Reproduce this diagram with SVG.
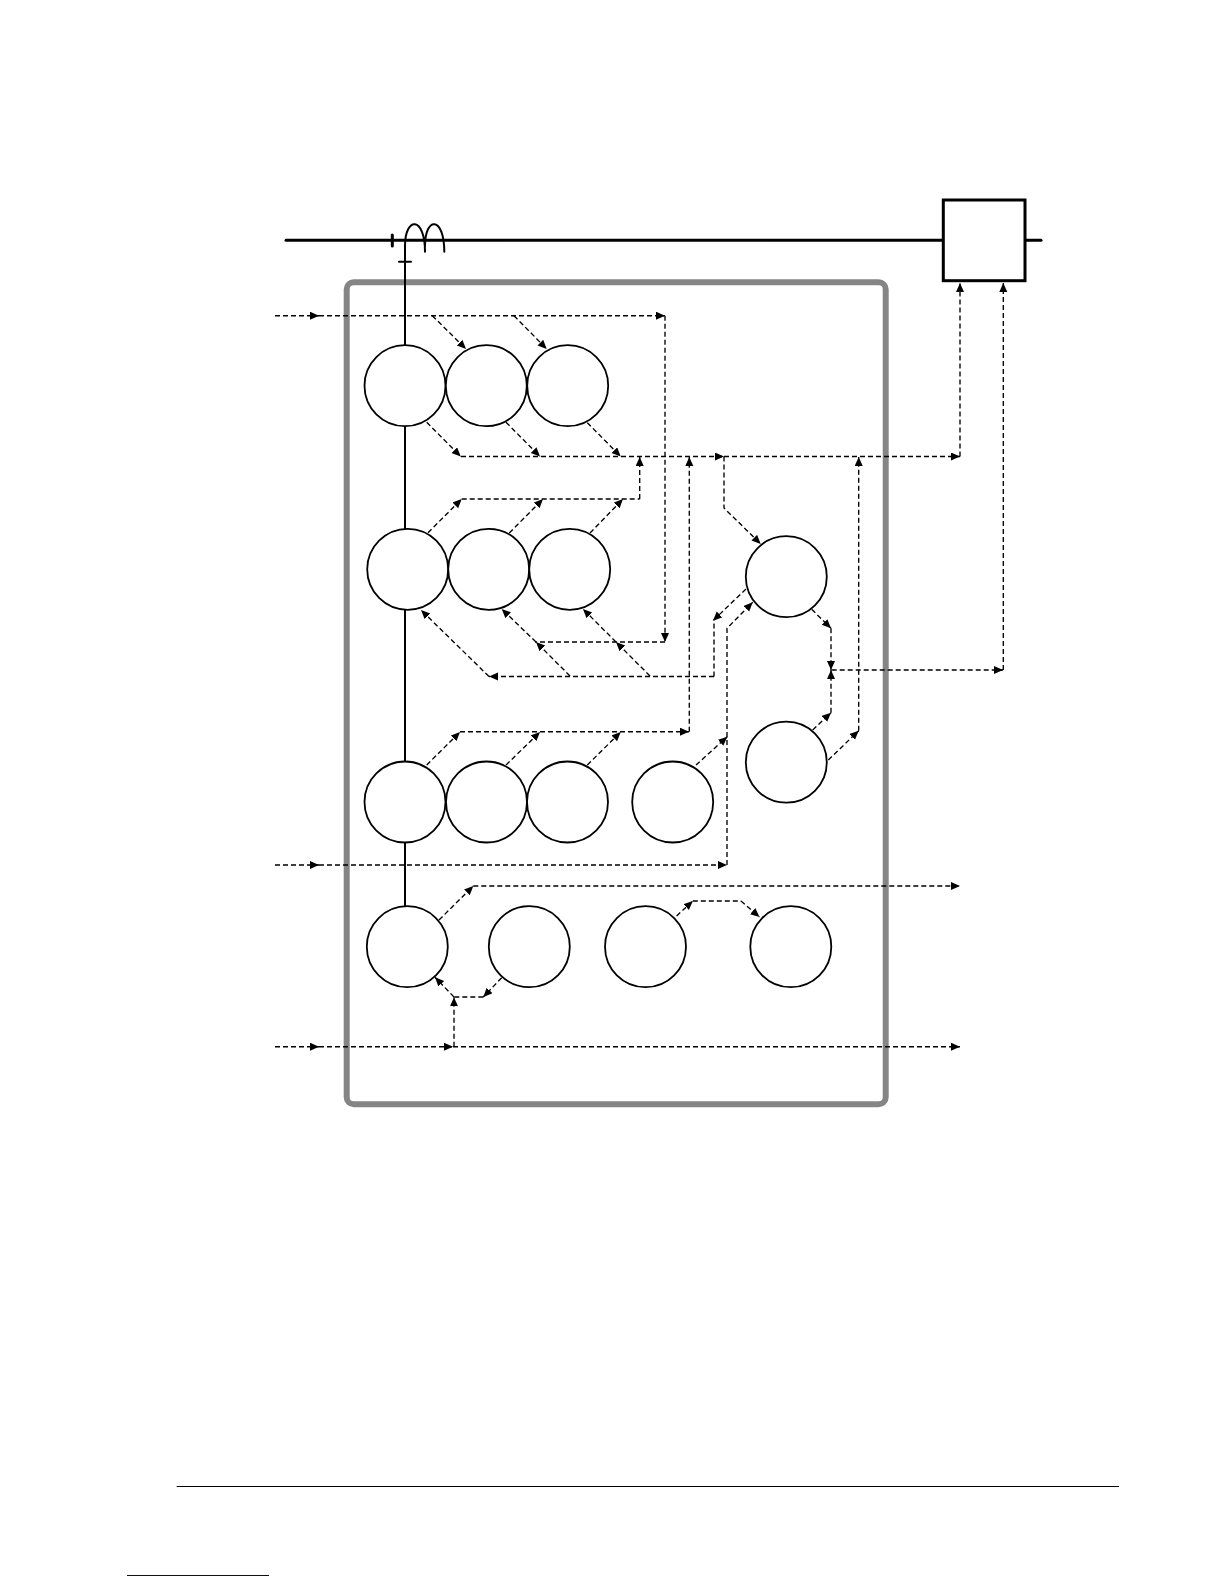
<svg xmlns="http://www.w3.org/2000/svg" width="1224" height="1584" viewBox="0 0 1224 1584">
<style>
.d{fill:none;stroke:#000;stroke-width:1.35;stroke-dasharray:5 3;marker-end:url(#a)}
.n{fill:none;stroke:#000;stroke-width:1.35;stroke-dasharray:5 3}
.s{fill:none;stroke:#000;stroke-width:2;stroke-linecap:round}
.t{fill:none;stroke:#000;stroke-width:3;stroke-linecap:round}
.c{fill:#fff;stroke:#000;stroke-width:1.8}
</style>
<defs><marker id="a" markerUnits="userSpaceOnUse" markerWidth="11" markerHeight="10" refX="9" refY="4" orient="auto"><path d="M0 0L9 4L0 8Z" fill="#000"/></marker></defs>
<rect width="1224" height="1584" fill="#fff"/>
<rect id="frame" x="346.7" y="282.3" width="539" height="822" rx="7" fill="none" stroke="#858585" stroke-width="6"/>
<g id="bus">
<path d="M286 240.3H943" class="t"/>
<path d="M1025 240.3H1041" class="t"/>
<path d="M392.3 235V246" class="t"/>
<path d="M399 261.7H411" class="s"/>
<path d="M405 906V246C405 216 425 216 425 251.7M425 246C425 216 444.3 216 444.3 251.7" class="s"/>
</g>
<g id="connectors">
<path class="d" d="M275 315.7H319"/><path class="d" d="M319 315.7H665"/><path class="d" d="M665 315.7V642"/><path class="n" d="M665 642H535"/>
<path class="d" d="M432.3 315.7L466 349"/><path class="d" d="M514 315.7L546.7 349"/>
<path class="d" d="M426.7 422.3L460.7 456.5"/><path class="d" d="M506 422.3L540 456.5"/><path class="d" d="M587.3 422.7L620.7 456.5"/>
<path class="d" d="M461 456.5H724"/><path class="d" d="M724 456.5H960"/><path class="d" d="M960 456.5V283"/>
<path class="d" d="M639.7 499V457"/><path class="d" d="M689.3 731.7V457"/><path class="d" d="M858.7 730.7V457"/>
<path class="d" d="M724 456.5V508L760.7 544"/>
<path class="n" d="M461.7 499H639.7"/>
<path class="d" d="M428 532.7L461.7 499"/><path class="d" d="M509.3 533L543 499"/><path class="d" d="M590 533L623 499"/>
<path class="d" d="M570 676L536 642"/><path class="d" d="M536 642L501.7 609"/>
<path class="d" d="M650 676L616 642"/><path class="d" d="M616 642L583 609"/>
<path class="d" d="M714 676.5H489"/><path class="d" d="M489 676.5L421 610"/>
<path class="n" d="M714 676.5V620.7"/><path class="d" d="M746 589L713 620.7"/>
<path class="d" d="M460 731.7H689"/>
<path class="d" d="M426.7 765L460 732"/><path class="d" d="M506 765L540 732"/><path class="d" d="M587.3 765L620.7 732"/><path class="d" d="M696 765L727.3 736.7"/>
<path class="d" d="M275 865H319"/><path class="d" d="M319 865H727"/><path class="d" d="M727 865V628.3L752.7 602.3"/>
<path class="d" d="M811.7 609.3L831 628.3"/><path class="d" d="M831 628.3V670"/><path class="d" d="M812.7 730L831 712.7"/><path class="d" d="M831 712.7V670"/>
<path class="d" d="M831.7 670H1003"/><path class="d" d="M1003.3 670V283"/>
<path class="d" d="M828.3 760L858.7 730.7"/>
<path class="d" d="M439 920L473.3 886"/><path class="d" d="M473.3 886H960"/>
<path class="d" d="M275 1046.7H319"/><path class="d" d="M319 1046.7H453"/><path class="d" d="M453 1046.7H960"/>
<path class="d" d="M454 1046.7V997.3"/><path class="d" d="M501.7 977.7L483.3 997"/><path class="n" d="M483.3 997H454"/><path class="d" d="M454 997L435 977.3"/>
<path class="d" d="M676.6 916L692.8 901"/><path class="n" d="M692.8 901H741"/><path class="d" d="M741 901L759.5 917"/>
</g>
<rect id="breaker" x="943.3" y="200" width="81.7" height="80.7" fill="#fff" stroke="#000" stroke-width="3"/>
<g id="n11"><circle class="c" cx="405" cy="385.7" r="40.5"/></g>
<g id="n12"><circle class="c" cx="486.3" cy="385.7" r="40.5"/></g>
<g id="n13"><circle class="c" cx="567.7" cy="385.7" r="40.5"/></g>
<g id="n21"><circle class="c" cx="407.7" cy="569.3" r="40.5"/></g>
<g id="n22"><circle class="c" cx="488.7" cy="569.3" r="40.5"/></g>
<g id="n23"><circle class="c" cx="569.7" cy="569.3" r="40.5"/></g>
<g id="n31"><circle class="c" cx="405" cy="802" r="40.5"/></g>
<g id="n32"><circle class="c" cx="486.5" cy="802" r="40.5"/></g>
<g id="n33"><circle class="c" cx="567.5" cy="802" r="40.5"/></g>
<g id="n34"><circle class="c" cx="672.7" cy="802" r="40.5"/></g>
<g id="n41"><circle class="c" cx="407.3" cy="946.7" r="40.5"/></g>
<g id="n42"><circle class="c" cx="529.3" cy="946.7" r="40.5"/></g>
<g id="n43"><circle class="c" cx="645.5" cy="946.7" r="40.5"/></g>
<g id="n44"><circle class="c" cx="790.8" cy="946.7" r="40.5"/></g>
<g id="r1"><circle class="c" cx="786.3" cy="576.7" r="40.5"/></g>
<g id="r2"><circle class="c" cx="786.3" cy="762.2" r="40.5"/></g>
<path d="M176.7 1486.5H1119" fill="none" stroke="#000" stroke-width="1"/>
<path d="M127 1575.5H269" fill="none" stroke="#00008b" stroke-width="1"/>
</svg>
